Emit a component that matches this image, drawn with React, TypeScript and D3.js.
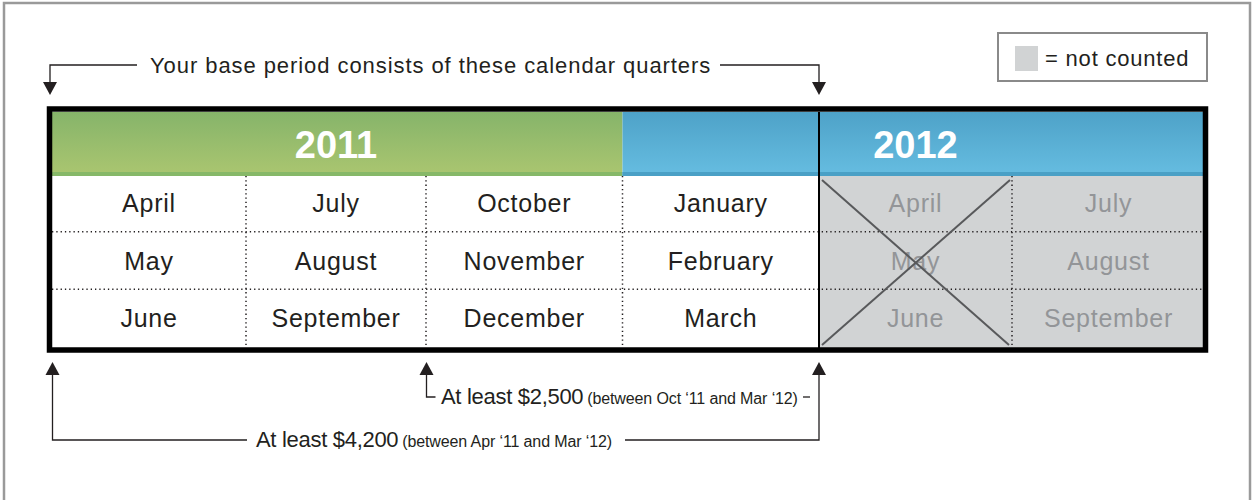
import React from 'react';
import * as d3 from 'd3';

// quarters shown in the table, left to right
const quarterMonths: string[][] = [
  ['April', 'May', 'June'],
  ['July', 'August', 'September'],
  ['October', 'November', 'December'],
  ['January', 'February', 'March'],
  ['April', 'May', 'June'],
  ['July', 'August', 'September'],
];
const quarterCounted = [true, true, true, true, false, false];
const years = [
  { label: '2011', from: 0, to: 3, labelAt: 1.5 },
  { label: '2012', from: 3, to: 6, labelAt: 4.5 },
];
const crossedQuarter = 4;
const topNote = 'Your base period consists of these calendar quarters';
const legendText = '= not counted';
const thresholds = [
  { amount: 'At least $4,200', range: '(between Apr \u201811 and Mar \u201812)', from: 0, to: 4 },
  { amount: 'At least $2,500', range: '(between Oct \u201811 and Mar \u201812)', from: 2, to: 4 },
];

const W = 1253;
const H = 500;
const FONT = '"Liberation Sans", Arial, Helvetica, sans-serif';

const App: React.FC = () => {
  // column boundaries by quarter index
  const x = d3.scaleLinear().domain([0, 1, 2, 4, 6]).range([52, 246, 426, 819, 1205]);
  const rows = d3.scaleBand<number>().domain([0, 1, 2]).range([174, 347]);
  const headTop = 112;
  const headBottom = 176;
  const tableTop = 109;
  const tableBottom = 350;

  const arrowDown = (cx: number, tip: number) =>
    `M${cx - 7},${tip - 13}L${cx + 7},${tip - 13}L${cx},${tip}Z`;
  const arrowUp = (cx: number, tip: number) =>
    `M${cx - 7},${tip + 13}L${cx + 7},${tip + 13}L${cx},${tip}Z`;

  const topY = 65;
  const bottomTip = 362;
  const lineY = [440, 397];

  return (
    <div style={{ position: 'fixed', left: 0, top: 0 }}>
      <svg width={W} height={H} style={{ display: 'block', background: '#fff' }}>
        <defs>
          <linearGradient id="gGreen" x1="0" y1="0" x2="0" y2="1">
            <stop offset="0" stopColor="#86b46a" />
            <stop offset="1" stopColor="#abc670" />
          </linearGradient>
          <linearGradient id="gBlue" x1="0" y1="0" x2="0" y2="1">
            <stop offset="0" stopColor="#4ea2c8" />
            <stop offset="1" stopColor="#66bde1" />
          </linearGradient>
        </defs>

        {/* outer frame */}
        <rect x={4} y={3} width={1246} height={540} fill="none" stroke="#9a9a9a" strokeWidth={2.5} />

        {/* legend */}
        <rect x={998} y={33} width={209} height={48} fill="#fff" stroke="#8a8a8a" strokeWidth={2} />
        <rect x={1015} y={46} width={23} height={25} fill="#d1d3d4" />
        <text x={1045} y={66} fontFamily={FONT} fontSize={22} letterSpacing={0.8} fill="#231f20">
          {legendText}
        </text>

        {/* top annotation */}
        <g stroke="#231f20" strokeWidth={1.3} fill="none">
          <path d={`M137,${topY}H${x(0) - 2}V${topY + 18}`} />
          <path d={`M720,${topY}H${x(4)}V${topY + 18}`} />
        </g>
        <path d={arrowDown(x(0) - 2, 95)} fill="#231f20" />
        <path d={arrowDown(x(4), 95)} fill="#231f20" />
        <text x={150} y={73} fontFamily={FONT} fontSize={22} letterSpacing={0.93} fill="#231f20">
          {topNote}
        </text>

        {/* year headers */}
        {years.map(yr => (
          <g key={yr.label}>
            <rect x={x(yr.from)} y={headTop} width={x(yr.to) - x(yr.from)} height={headBottom - headTop}
              fill={yr.label === '2011' ? 'url(#gGreen)' : 'url(#gBlue)'} />
            <rect x={x(yr.from)} y={headBottom - 4} width={x(yr.to) - x(yr.from)} height={4}
              fill={yr.label === '2011' ? '#86b868' : '#4aa0c6'} />
            <text x={x(yr.labelAt)} y={158} textAnchor="middle" fontFamily={FONT}
              fontWeight="bold" fontSize={38} fill="#fff">
              {yr.label}
            </text>
          </g>
        ))}

        {/* month cells */}
        {quarterMonths.map((months, q) => (
          <g key={q}>
            {!quarterCounted[q] && (
              <rect x={x(q)} y={headBottom} width={x(q + 1) - x(q)} height={tableBottom - headBottom} fill="#d1d3d4" />
            )}
            {months.map((m, r) => (
              <text key={m} x={(x(q) + x(q + 1)) / 2} y={(rows(r) ?? 0) + rows.bandwidth() / 2 + 9}
                textAnchor="middle" fontFamily={FONT} fontSize={25} letterSpacing={0.75}
                fill={quarterCounted[q] ? '#231f20' : '#939598'}>
                {m}
              </text>
            ))}
          </g>
        ))}

        {/* dotted grid */}
        <g stroke="#231f20" strokeWidth={1.5} strokeDasharray="1.3,3" fill="none">
          {[1, 2].map(r => (
            <line key={'h' + r} x1={x(0)} x2={x(6)} y1={rows(r)} y2={rows(r)} />
          ))}
          {[1, 2, 3, 5].map(q => (
            <line key={'v' + q} x1={x(q)} x2={x(q)} y1={headBottom} y2={tableBottom} />
          ))}
        </g>

        {/* cross over the first uncounted quarter */}
        <g stroke="#58595b" strokeWidth={2}>
          <line x1={x(crossedQuarter) + 3} y1={headBottom + 4} x2={x(crossedQuarter + 1) - 3} y2={tableBottom - 5} />
          <line x1={x(crossedQuarter + 1) - 2} y1={headBottom + 4} x2={x(crossedQuarter) + 3} y2={tableBottom - 5} />
        </g>

        {/* year divider and table border */}
        <line x1={x(4)} x2={x(4)} y1={headTop} y2={tableBottom} stroke="#000" strokeWidth={2} />
        <rect x={x(0) - 2.5} y={tableTop} width={x(6) - x(0) + 3} height={tableBottom - tableTop}
          fill="none" stroke="#000" strokeWidth={5.5} />

        {/* bottom annotations */}
        {thresholds.map((t, i) => {
          const ly = lineY[i];
          const xa = x(t.from) + 0.5;
          const xb = x(t.to);
          return (
            <g key={t.amount}>
              <path d={arrowUp(xa, bottomTip)} fill="#231f20" />
              <g stroke="#231f20" strokeWidth={1.3} fill="none">
                {i === 0 ? (
                  <>
                    <path d={`M${xa},${bottomTip + 13}V${ly}H247`} />
                    <path d={`M625,${ly}H${xb}V${bottomTip + 13}`} />
                  </>
                ) : (
                  <>
                    <path d={`M${xa},${bottomTip + 13}V${ly}H${xa + 9}`} />
                    <path d={`M803,${ly}H810`} />
                  </>
                )}
              </g>
              <text x={i === 0 ? 256 : 441} y={ly + 7} fontFamily={FONT} fill="#231f20">
                <tspan fontSize={22} letterSpacing={-0.3}>{t.amount}</tspan>
                <tspan fontSize={16} letterSpacing={-0.12} dx={4}>{t.range}</tspan>
              </text>
            </g>
          );
        })}
        {/* right arrow shared by both ranges */}
        <path d={arrowUp(x(4), bottomTip)} fill="#231f20" />
      </svg>
    </div>
  );
};

export default App;
